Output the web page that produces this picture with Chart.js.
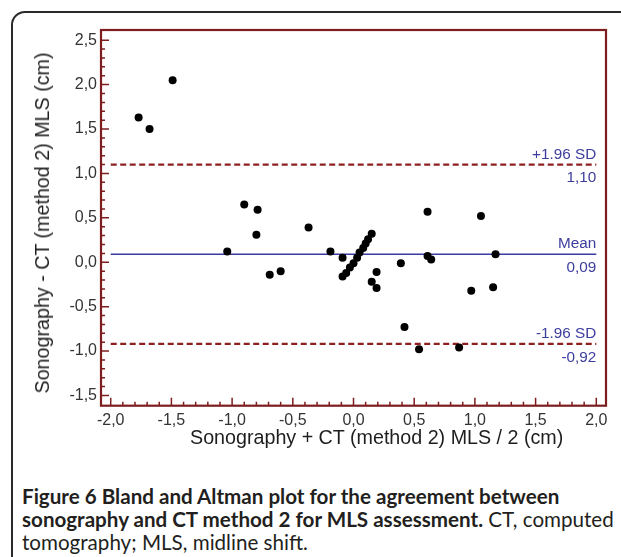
<!DOCTYPE html>
<html>
<head>
<meta charset="utf-8">
<title>Bland-Altman plot, sonography vs CT method 2</title>
<script src="https://cdn.jsdelivr.net/npm/chart.js@4.4.0/dist/chart.umd.min.js"></script>
<style>
  html, body { margin: 0; padding: 0; background: #fff; }
  body { width: 621px; height: 557px; position: relative; overflow: hidden;
         font-family: "Liberation Sans", Arial, sans-serif; }
  #frame { position: absolute; left: 11px; top: 11px; width: 660px; height: 620px;
           border: 2px solid #2a2a2a; border-radius: 14px; }
  #plot { position: absolute; left: 0; top: 0; width: 621px; height: 460px; }
  #xTitle { position: absolute; left: 190px; top: 426px; font-size: 19.7px; line-height: 22px;
            color: #1e1e1e; white-space: nowrap; }
  #yTitle { position: absolute; left: 42px; top: 223px; font-size: 19.7px; line-height: 22px;
            color: #1e1e1e; white-space: nowrap;
            transform: translate(-50%, -50%) rotate(-90deg); }
  #caption { position: absolute; left: 22px; top: 485px; font-family: Lato, sans-serif;
             font-size: 20.6px; line-height: 23px; color: #231f20; white-space: nowrap; }
  #caption b { font-weight: 700; }
</style>
</head>
<body>
<div id="frame"></div>
<div id="plot"><canvas id="chartBlandAltman"></canvas></div>
<div id="yTitle">Sonography - CT (method 2) MLS (cm)</div>
<div id="xTitle">Sonography + CT (method 2) MLS / 2 (cm)</div>
<div id="caption"><b>Figure 6 Bland and Altman plot for the agreement between</b><br><b>sonography and CT method 2 for MLS assessment.</b> CT, computed<br>tomography; MLS, midline shift.</div>

<script>
/* ---------------------------------------------
   Data.
   x = mean of both methods, y = difference (cm)
   --------------------------------------------- */
var meanCm = [
  -1.77, -1.68, -1.49,
  -1.04, -0.90, -0.79, -0.80, -0.69, -0.60,
  -0.37, -0.19, -0.09,
  -0.09, -0.06, -0.03, 0.00, 0.03, 0.05, 0.08, 0.10, 0.12, 0.15,
  0.19, 0.15, 0.19,
  0.39, 0.61, 0.64, 0.61, 1.05, 1.17,
  0.97, 1.15, 0.42, 0.54, 0.87
];
var diffCm = [
  1.63, 1.50, 2.05,
  0.12, 0.65, 0.59, 0.31, -0.14, -0.10,
  0.39, 0.12, 0.05,
  -0.16, -0.12, -0.06, -0.01, 0.05, 0.11, 0.16, 0.21, 0.26, 0.32,
  -0.11, -0.22, -0.29,
  -0.01, 0.57, 0.03, 0.07, 0.52, 0.09,
  -0.32, -0.28, -0.73, -0.98, -0.96
];

// limits of agreement and mean difference
var limitNames  = ['+1.96 SD', 'Mean', '-1.96 SD'];
var limitValues = [1.10, 0.09, -0.92];
var limitSpan   = [-2.0, 2.0];

// tick labels
var xTicks = [-2.0, -1.5, -1.0, -0.5, 0.0, 0.5, 1.0, 1.5, 2.0];
var yTicks = [-1.5, -1.0, -0.5, 0.0, 0.5, 1.0, 1.5, 2.0, 2.5];

var frameColour = '#7e1d1d';
var sdColour    = '#8c2020';
var meanColour  = '#3a3aa0';
var labelColour = '#3d3d9e';

function commaDecimal(v, digits) {
  return v.toFixed(digits).replace('.', ',');
}

/* ---------------------------------------------
   Plugin: plot frame, inward major/minor ticks
   and the labels on the limit lines.
   --------------------------------------------- */
var framePlugin = {
  id: 'baFrame',
  afterDatasetsDraw: function (chart) {
    var ctx = chart.ctx;
    var a = chart.chartArea;
    var xs = chart.scales.x;
    var ys = chart.scales.y;
    var i, p, len;

    ctx.save();
    ctx.strokeStyle = frameColour;
    ctx.lineWidth = 1.5;
    ctx.beginPath();
    for (i = Math.round(xTicks[0] * 10); i <= Math.round(xTicks[xTicks.length - 1] * 10); i++) {
      p = xs.getPixelForValue(i / 10);
      len = (i % 5 === 0) ? 8 : 4;
      ctx.moveTo(p, a.bottom);
      ctx.lineTo(p, a.bottom - len);
    }
    for (i = Math.round(yTicks[0] * 10); i <= Math.round(yTicks[yTicks.length - 1] * 10); i++) {
      p = ys.getPixelForValue(i / 10);
      len = (i % 5 === 0) ? 8 : 4;
      ctx.moveTo(a.left, p);
      ctx.lineTo(a.left + len, p);
    }
    ctx.stroke();

    ctx.lineWidth = 2.2;
    ctx.strokeRect(a.left, a.top, a.right - a.left, a.bottom - a.top);

    // labels above / below each horizontal line
    ctx.fillStyle = labelColour;
    ctx.font = '15.3px "Liberation Sans", Arial, sans-serif';
    ctx.textAlign = 'right';
    ctx.textBaseline = 'middle';
    var xr = xs.getPixelForValue(limitSpan[1]);
    for (i = 0; i < limitValues.length; i++) {
      p = ys.getPixelForValue(limitValues[i]);
      ctx.fillText(limitNames[i], xr, p - 10);
      ctx.fillText(commaDecimal(limitValues[i], 2), xr, p + 13.5);
    }
    ctx.restore();
  }
};

function limitLine(value, colour, dashed) {
  return {
    type: 'line',
    data: [{ x: limitSpan[0], y: value }, { x: limitSpan[1], y: value }],
    borderColor: colour,
    borderWidth: dashed ? 2.2 : 1.6,
    borderDash: dashed ? [6, 3.5] : [],
    pointRadius: 0,
    fill: false
  };
}

Chart.defaults.font.family = '"Liberation Sans", Arial, sans-serif';
Chart.defaults.color = '#333';

var points = meanCm.map(function (m, k) { return { x: m, y: diffCm[k] }; });

new Chart(document.getElementById('chartBlandAltman'), {
  type: 'scatter',
  data: {
    datasets: [
      {
        label: 'Patients',
        data: points,
        backgroundColor: '#000',
        borderWidth: 0,
        pointRadius: 4
      },
      limitLine(limitValues[0], sdColour, true),
      limitLine(limitValues[1], meanColour, false),
      limitLine(limitValues[2], sdColour, true)
    ]
  },
  options: {
    responsive: true,
    maintainAspectRatio: false,
    animation: false,
    layout: { padding: { top: 30, right: 15, left: 0, bottom: 0 } },
    plugins: {
      legend: { display: false },
      tooltip: { enabled: false }
    },
    scales: {
      x: {
        type: 'linear',
        min: -2.08,
        max: 2.08,
        grid: { display: false, drawTicks: false },
        border: { display: false },
        afterBuildTicks: function (scale) {
          scale.ticks = xTicks.map(function (v) { return { value: v }; });
        },
        afterFit: function (scale) { scale.height = 54.3; },
        ticks: {
          padding: 5,
          maxRotation: 0,
          autoSkip: false,
          font: { size: 16 },
          color: '#333',
          callback: function (v) { return commaDecimal(v, 1); }
        }
      },
      y: {
        type: 'linear',
        min: -1.615,
        max: 2.615,
        grid: { display: false, drawTicks: false },
        border: { display: false },
        afterBuildTicks: function (scale) {
          scale.ticks = yTicks.map(function (v) { return { value: v }; });
        },
        afterFit: function (scale) { scale.width = 101; },
        ticks: {
          padding: 4,
          autoSkip: false,
          font: { size: 16 },
          color: '#333',
          callback: function (v) { return commaDecimal(v, 1); }
        }
      }
    }
  },
  plugins: [framePlugin]
});
</script>
</body>
</html>
